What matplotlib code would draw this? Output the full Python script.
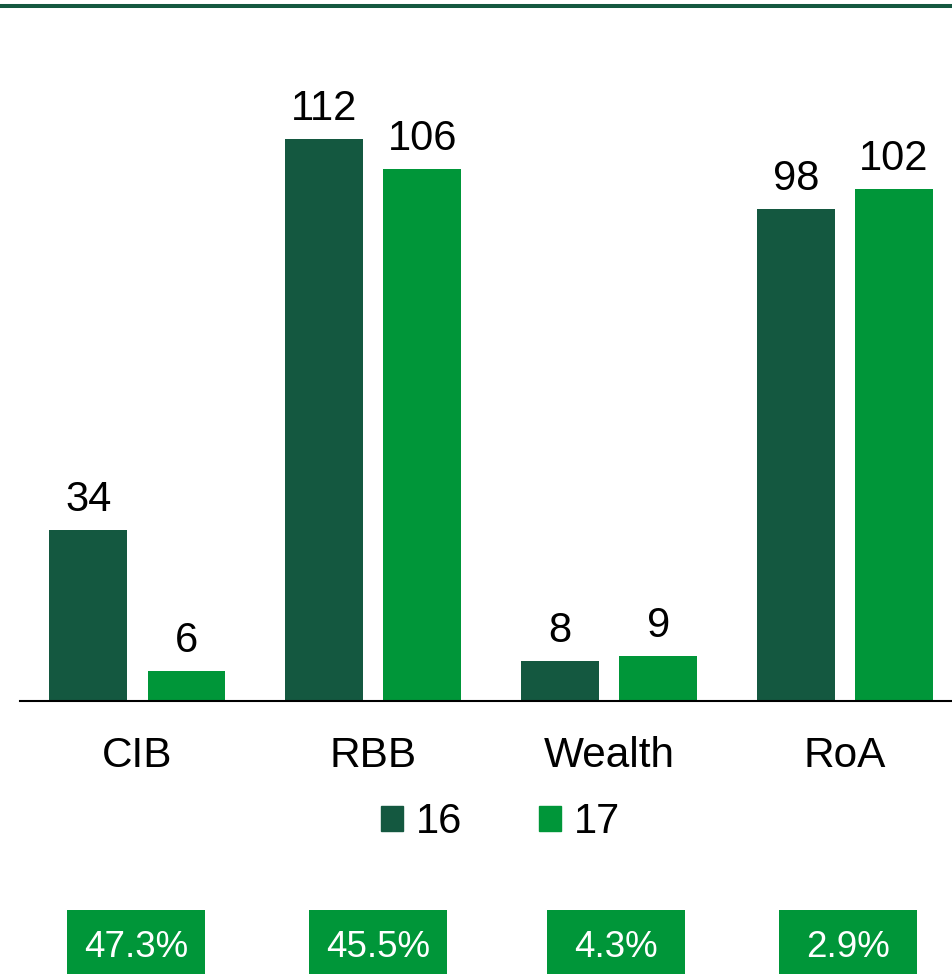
import matplotlib
matplotlib.use("Agg")
import matplotlib.pyplot as plt
import numpy as np
from matplotlib.patches import Patch, Rectangle
from matplotlib.lines import Line2D

plt.rcParams["font.family"] = ["Liberation Sans", "DejaVu Sans"]

categories = ["CIB", "RBB", "Wealth", "RoA"]
series_names = ["16", "17"]
values_16 = [34, 112, 8, 98]
values_17 = [6, 106, 9, 102]
shares = ["47.3%", "45.5%", "4.3%", "2.9%"]

dark = "#145840"
bright = "#009639"

W, H = 953, 974
fig = plt.figure(figsize=(W / 100, H / 100), dpi=100)

# plot area: baseline at y=701px, from x=20px to the right edge
ax = fig.add_axes([20 / W, (H - 701) / H, 933 / W, 641 / H])
x = np.arange(len(categories))
bw = 0.33
off = 0.208
b1 = ax.bar(x - off, values_16, bw, color=dark, label=series_names[0])
b2 = ax.bar(x + off, values_17, bw, color=bright, label=series_names[1])

ax.set_xlim(-0.498, 3.458)
ax.set_ylim(0, 127.7)

for bars, vals in [(b1, values_16), (b2, values_17)]:
    for r, v in zip(bars, vals):
        ax.annotate(str(v), (r.get_x() + r.get_width() / 2, v),
                    xytext=(0, 13.7), textcoords="offset points",
                    ha="center", va="baseline", fontsize=30)

for i, c in enumerate(categories):
    ax.annotate(c, (i, 0), xycoords=("data", "axes fraction"),
                xytext=(0, -47.5), textcoords="offset points",
                ha="center", va="baseline", fontsize=30.5)

for s in ["top", "right", "left"]:
    ax.spines[s].set_visible(False)
ax.spines["bottom"].set_linewidth(1.5)
ax.spines["bottom"].set_color("black")
ax.set_xticks([])
ax.set_yticks([])

handles = [Patch(color=dark), Patch(color=bright)]
fig.legend(handles, series_names, loc="center",
           bbox_to_anchor=(500.5 / W, (H - 822) / H), ncol=2,
           frameon=False, fontsize=30, handlelength=0.53, handleheight=0.53,
           handletextpad=0.3, columnspacing=1.85, borderpad=0)

# share boxes along the bottom
box_centers = [136, 378, 615.5, 848]
for cx, s in zip(box_centers, shares):
    fig.add_artist(Rectangle(((cx - 69) / W, 0), 138 / W, 64 / H,
                             transform=fig.transFigure, color=bright, lw=0))
    fig.text(cx / W, (H - 956.7) / H, s, ha="center", va="baseline",
             fontsize=26.5, color="white")

# rule across the top
fig.add_artist(Line2D([0, 1], [(H - 6) / H] * 2, transform=fig.transFigure,
                      color=dark, lw=2.9))

fig.savefig("out.png", dpi=100)
